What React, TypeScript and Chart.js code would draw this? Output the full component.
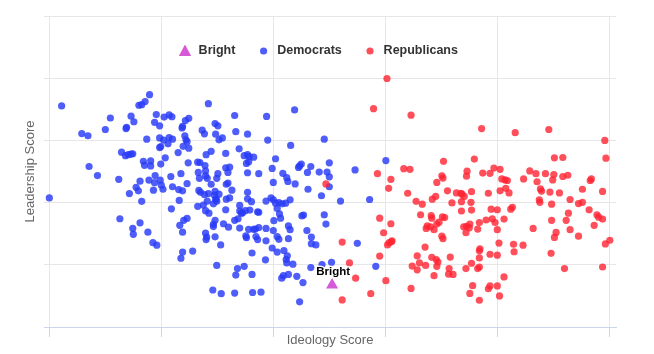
import React, { useEffect, useRef } from "react";
import { Chart, registerables } from "chart.js";

Chart.register(...registerables);

// Axis titles and tick values (labels hidden in the reference)
const xTitle = "Ideology Score";
const yTitle = "Leadership Score";
const xTicks = [0, 20, 40, 60, 80, 100];
const yTicks = [0, 20, 40, 60, 80, 100];
const seriesNames = ["Bright", "Democrats", "Republicans"];

// Bright (highlighted member)
const brightIdeology = [50.5];
const brightLeadership = [13.5];

// Democrats
const demIdeology = [
  17.9, 17.1, 16.5, 16.0, 2.2, 28.4, 43.8, 10.9, 14.6, 15.1, 13.8, 13.7, 19.1, 20.5, 21.4, 21.9,
  24.9, 24.3, 23.8, 23.7, 33.1, 38.8, 10.0, 5.8, 6.9, 18.8, 19.7, 29.6, 30.1, 27.3, 27.7, 24.2,
  24.4, 24.6, 29.7, 30.9, 30.3, 33.3, 35.4, 17.4, 19.7, 20.4, 21.4, 21.2, 22.0, 19.9, 19.7, 23.9,
  24.9, 23.0, 39.0, 43.1, 49.1, 12.9, 13.6, 14.1, 14.6, 14.9, 28.9, 28.0, 33.9, 34.8, 35.4, 35.7,
  36.5, 31.5, 20.7, 16.8, 18.1, 18.1, 17.0, 19.9, 24.8, 26.5, 26.9, 27.8, 35.6, 35.2, 7.1, 8.6,
  12.4, 16.2, 17.8, 18.9, 19.8, 18.8, 23.5, 21.7, 27.9, 26.6, 26.8, 27.9, 28.2, 30.1, 29.9, 28.9,
  31.5, 32.2, 31.9, 35.4, 37.4, 39.8, 40.4, 44.7, 45.0, 44.5, 46.7, 46.1, 48.2, 49.6, 50.0, 50.0,
  41.7, 42.4, 42.6, 43.9, 15.5, 15.9, 14.3, 16.5, 20.0, 20.3, 22.0, 24.6, 23.1, 23.8, 23.2, 26.7,
  27.0, 27.7, 28.4, 29.6, 29.5, 30.3, 29.8, 29.9, 31.9, 31.6, 32.6, 35.4, 35.4, 31.6, 32.2, 28.2,
  27.5, 26.5, 27.9, 28.5, 29.3, 29.7, 31.5, 34.0, 34.0, 36.1, 37.4, 38.7, 39.6, 40.0, 40.4, 41.0,
  41.6, 42.2, 43.0, 40.7, 41.1, 41.3, 40.1, 21.8, 12.6, 16.2, 14.9, 15.0, 17.6, 18.5, 19.2, 24.6,
  24.0, 23.3, 23.8, 23.8, 23.5, 25.6, 27.9, 28.1, 28.0, 29.6, 29.3, 29.3, 29.6, 30.6, 31.1, 32.0,
  33.7, 33.1, 34.3, 35.0, 34.5, 34.0, 35.8, 37.2, 35.1, 35.2, 35.6, 36.5, 37.4, 36.8, 36.9, 37.2,
  38.7, 38.7, 40.0, 40.7, 41.0, 42.7, 43.0, 42.7, 41.9, 39.8, 40.7, 42.5, 42.4, 42.3, 43.5, 45.4,
  45.1, 46.0, 46.8, 46.8, 47.6, 46.2, 49.1, 49.4, 48.6, 52.0, 54.6, 57.2, 60.1, 55.0, 46.7, 48.7,
  50.4, 58.3, 29.9, 33.6, 34.8, 36.2, 33.3, 38.6, 41.8, 42.7, 41.5, 44.2, 45.3, 29.2, 30.7, 33.1,
  36.3, 37.8, 44.7, 0.0, 50.0, 36.2, 40.0, 18.6,
];
const demLeadership = [
  74.7, 72.5, 71.5, 71.3, 71.1, 71.8, 69.8, 67.2, 67.8, 66.0, 64.2, 63.8, 68.3, 67.5, 68.2, 67.6,
  67.1, 66.4, 64.5, 64.0, 68.0, 67.7, 63.5, 62.2, 61.5, 65.8, 64.7, 65.4, 64.7, 63.3, 62.1, 61.5,
  60.2, 59.6, 62.0, 60.8, 60.2, 62.8, 62.0, 60.4, 60.8, 60.1, 60.9, 58.9, 60.4, 58.0, 57.7, 58.1,
  57.5, 56.1, 60.1, 58.4, 60.4, 56.2, 55.1, 55.4, 55.6, 55.7, 56.5, 55.4, 57.3, 55.1, 55.4, 54.8,
  54.6, 55.8, 54.4, 53.3, 53.4, 51.8, 52.0, 52.4, 52.8, 53.0, 52.9, 51.9, 53.1, 52.6, 51.6, 48.7,
  47.5, 46.9, 47.2, 48.7, 47.2, 46.4, 49.3, 48.4, 50.2, 49.7, 47.8, 48.6, 47.8, 49.3, 47.8, 45.9,
  51.2, 51.4, 49.7, 49.6, 49.3, 51.0, 54.1, 51.8, 52.4, 51.3, 51.6, 49.7, 49.8, 49.8, 52.8, 48.3,
  49.4, 48.0, 46.8, 46.0, 44.9, 43.8, 42.9, 40.4, 45.6, 44.3, 45.1, 46.1, 44.2, 43.8, 40.7, 43.9,
  43.3, 42.6, 42.9, 43.6, 42.4, 42.7, 41.2, 40.4, 46.3, 45.9, 44.0, 43.3, 41.2, 41.1, 41.5, 40.5,
  39.2, 38.8, 37.4, 36.6, 39.6, 40.9, 37.7, 39.1, 37.3, 40.3, 36.9, 40.5, 41.5, 40.9, 39.8, 40.0,
  39.6, 39.8, 40.9, 38.1, 36.4, 35.0, 34.2, 38.0, 34.8, 33.5, 31.7, 29.8, 30.5, 27.1, 26.3, 34.9,
  34.3, 32.7, 30.5, 24.1, 22.1, 24.4, 30.2, 28.9, 28.1, 34.3, 33.0, 32.3, 29.0, 26.4, 33.2, 32.1,
  34.8, 34.3, 36.6, 37.4, 36.7, 31.8, 37.6, 37.0, 29.3, 28.7, 31.4, 31.4, 32.0, 31.5, 29.1, 28.1,
  31.7, 27.7, 31.0, 29.1, 28.2, 32.5, 31.3, 28.4, 24.6, 25.4, 24.1, 22.9, 20.6, 21.7, 20.2, 36.0,
  35.7, 31.0, 28.9, 26.8, 26.4, 44.3, 36.1, 33.1, 42.2, 40.5, 50.5, 41.0, 53.5, 26.9, 19.1, 20.1,
  20.8, 19.5, 19.8, 18.8, 19.5, 16.9, 16.7, 21.6, 16.5, 16.9, 15.7, 16.3, 14.3, 11.9, 10.7, 10.9,
  11.1, 11.2, 8.1, 41.5, 45.1, 23.8, 46.5, 44.0,
];

// Republicans
const repIdeology = [
  60.3, 57.9, 64.6, 77.2, 83.2, 89.2, 99.2, 99.4, 70.4, 75.9, 90.2, 91.7, 58.6, 61.0, 60.6, 63.3,
  64.4, 74.6, 74.5, 77.4, 78.7, 79.4, 80.5, 80.8, 81.4, 81.8, 85.8, 86.9, 88.6, 90.1, 89.9, 91.7,
  92.6, 84.7, 87.1, 96.8, 96.6, 70.1, 70.3, 69.2, 64.0, 71.1, 72.7, 73.5, 73.7, 74.1, 75.4, 78.4,
  80.5, 81.5, 82.1, 87.7, 87.9, 89.4, 91.1, 95.2, 98.8, 69.0, 68.4, 65.5, 66.6, 71.9, 73.6, 75.3,
  87.5, 87.6, 89.7, 93.0, 94.5, 95.2, 73.6, 75.4, 78.9, 80.0, 82.7, 82.4, 96.4, 97.8, 98.1, 66.3,
  68.2, 68.3, 70.2, 70.6, 92.7, 59.0, 61.0, 69.6, 69.2, 74.5, 74.0, 75.0, 75.1, 79.1, 78.0, 76.8,
  81.2, 79.6, 67.5, 68.1, 68.7, 67.3, 76.5, 74.4, 80.0, 89.7, 92.3, 97.3, 98.8, 86.4, 90.5, 90.2,
  93.0, 94.5, 59.7, 60.7, 61.1, 61.2, 60.4, 70.1, 70.3, 67.1, 52.3, 80.3, 82.9, 84.6, 83.0, 76.9,
  76.8, 99.3, 100.1, 65.7, 68.3, 69.1, 69.4, 71.6, 78.7, 80.0, 76.8, 89.6, 59.0, 53.6, 64.8, 66.1,
  67.2, 65.7, 69.2, 71.4, 71.3, 72.1, 68.7, 74.4, 75.4, 76.5, 76.8, 81.2, 92.0, 98.8, 54.7, 60.1,
  64.6, 75.6, 75.1, 78.7, 78.4, 80.0, 76.8, 80.4, 57.4, 52.3, 49.4,
];
const repLeadership = [
  79.9, 70.2, 68.1, 63.8, 62.5, 63.5, 60.0, 54.3, 53.3, 54.0, 54.4, 54.5, 49.3, 47.5, 44.6, 50.9,
  50.7, 50.1, 48.5, 49.5, 49.4, 51.1, 50.7, 47.6, 47.3, 47.1, 50.2, 49.3, 49.3, 49.0, 47.3, 48.4,
  48.8, 47.6, 46.7, 47.6, 47.1, 48.6, 47.9, 46.5, 43.0, 43.8, 43.1, 43.0, 42.7, 42.0, 43.5, 43.0,
  43.8, 44.6, 43.1, 44.4, 43.7, 43.4, 43.1, 44.3, 43.6, 42.0, 41.1, 40.4, 39.5, 39.9, 40.3, 40.1,
  40.9, 40.1, 39.5, 41.0, 39.7, 40.1, 37.3, 37.6, 37.9, 37.7, 38.5, 37.9, 37.7, 36.1, 35.3, 36.1,
  35.8, 35.0, 35.4, 35.2, 36.6, 35.0, 33.2, 33.7, 33.1, 32.4, 32.2, 31.9, 33.1, 34.8, 34.4, 33.6,
  34.7, 33.6, 32.5, 32.2, 31.3, 31.7, 31.5, 30.3, 31.3, 34.3, 34.3, 32.7, 34.7, 31.7, 30.4, 28.8,
  31.3, 29.2, 30.3, 27.1, 27.4, 27.7, 26.4, 29.2, 28.4, 25.7, 27.3, 27.0, 26.6, 26.3, 24.2, 25.1,
  24.5, 26.7, 27.9, 22.9, 22.4, 21.7, 20.9, 22.5, 23.4, 23.1, 22.2, 23.7, 22.8, 20.6, 19.6, 20.6,
  19.8, 18.4, 19.5, 18.8, 17.0, 16.9, 16.5, 18.8, 20.5, 18.8, 19.3, 16.1, 18.8, 19.3, 15.7, 14.9,
  12.4, 13.3, 10.8, 13.2, 12.3, 13.2, 8.6, 10.0, 10.7, 8.7, 46.0,
];

const seriesColors = ["#d65ad6", "rgba(40, 58, 246, 0.82)", "rgba(255, 35, 50, 0.8)"];

const zip = (xs: number[], ys: number[]) => xs.map((x, i) => ({ x, y: ys[i] }));

const legendPlugin = {
  id: "floatingLegend",
  afterDraw(chart: any) {
    const ctx = chart.ctx;
    ctx.save();
    ctx.font = 'bold 12.5px "Liberation Sans", Arial, sans-serif';
    ctx.textBaseline = "middle";
    ctx.textAlign = "left";
    let x = 185;
    const y = 51;
    chart.data.datasets.forEach((ds: any) => {
      ctx.fillStyle = ds.pointBackgroundColor;
      ctx.beginPath();
      if (ds.pointStyle === "triangle") {
        ctx.moveTo(x, y - 6.5);
        ctx.lineTo(x + 6.2, y + 5);
        ctx.lineTo(x - 6.2, y + 5);
        ctx.closePath();
      } else {
        ctx.arc(x, y, 3.6, 0, Math.PI * 2);
      }
      ctx.fill();
      ctx.fillStyle = "#333333";
      ctx.fillText(ds.label, x + 13.6, y);
      x += 13.6 + ctx.measureText(ds.label).width + 28.2;
    });
    ctx.restore();
  },
};

const dataLabelPlugin = {
  id: "brightLabel",
  afterDatasetsDraw(chart: any) {
    const meta = chart.getDatasetMeta(0);
    const ctx = chart.ctx;
    ctx.save();
    ctx.font = 'bold 11.5px "Liberation Sans", Arial, sans-serif';
    ctx.textAlign = "center";
    ctx.textBaseline = "middle";
    ctx.lineJoin = "round";
    meta.data.forEach((el: any) => {
      const label = chart.data.datasets[0].label;
      ctx.strokeStyle = "#ffffff";
      ctx.lineWidth = 2.5;
      ctx.strokeText(label, el.x + 1, el.y - 13);
      ctx.fillStyle = "#000000";
      ctx.fillText(label, el.x + 1, el.y - 13);
    });
    ctx.restore();
  },
};

export default function App() {
  const canvasRef = useRef<HTMLCanvasElement | null>(null);

  useEffect(() => {
    if (!canvasRef.current) return;
    const chart = new Chart(canvasRef.current, {
      type: "scatter",
      data: {
        datasets: [
          {
            label: seriesNames[0],
            data: zip(brightIdeology, brightLeadership),
            pointStyle: "triangle",
            pointRadius: 7,
            pointHoverRadius: 7,
            pointBackgroundColor: seriesColors[0],
            backgroundColor: seriesColors[0],
            pointBorderWidth: 0,
            borderWidth: 0,
            order: 0,
          },
          {
            label: seriesNames[1],
            data: zip(demIdeology, demLeadership),
            pointStyle: "circle",
            pointRadius: 3.6,
            pointHoverRadius: 3.6,
            pointBackgroundColor: seriesColors[1],
            backgroundColor: seriesColors[1],
            pointBorderWidth: 0,
            borderWidth: 0,
            order: 2,
          },
          {
            label: seriesNames[2],
            data: zip(repIdeology, repLeadership),
            pointStyle: "circle",
            pointRadius: 3.6,
            pointHoverRadius: 3.6,
            pointBackgroundColor: seriesColors[2],
            backgroundColor: seriesColors[2],
            pointBorderWidth: 0,
            borderWidth: 0,
            order: 1,
          },
        ],
      } as any,
      options: {
        responsive: false,
        animation: false,
        devicePixelRatio: 1,
        events: [],
        layout: { padding: { top: 16, right: 38, left: 0, bottom: 0 } },
        plugins: {
          legend: { display: false },
          tooltip: { enabled: false },
        },
        scales: {
          x: {
            type: "linear",
            position: "bottom",
            min: -0.95,
            max: 101.2,
            afterBuildTicks: (s: any) => {
              s.ticks = xTicks.map((v) => ({ value: v }));
            },
            afterFit: (s: any) => {
              s.height = 27;
            },
            ticks: { display: false },
            grid: {
              color: "#e6e6e6",
              tickColor: "#ccd6eb",
              tickLength: 10,
              drawTicks: true,
              lineWidth: 1,
            },
            border: { display: true, color: "#ccd6eb", width: 1 },
            title: {
              display: true,
              text: xTitle,
              color: "#666666",
              font: { family: '"Liberation Sans", Arial, sans-serif', size: 13 },
              padding: { top: 0, bottom: 5.7 },
            },
          },
          y: {
            type: "linear",
            position: "left",
            min: 0,
            max: 100,
            afterBuildTicks: (s: any) => {
              s.ticks = yTicks.map((v) => ({ value: v }));
            },
            afterFit: (s: any) => {
              s.width = 44;
            },
            ticks: { display: false },
            grid: {
              color: (c: any) => (c.tick && c.tick.value === 0 ? "rgba(0,0,0,0)" : "#e6e6e6"),
              drawTicks: false,
              lineWidth: 1,
            },
            border: { display: false },
            title: {
              display: true,
              text: yTitle,
              color: "#666666",
              font: { family: '"Liberation Sans", Arial, sans-serif', size: 13 },
              padding: { top: 22.2, bottom: 0 },
            },
          },
        },
      } as any,
      plugins: [legendPlugin, dataLabelPlugin],
    });
    return () => chart.destroy();
  }, []);

  return (
    <div style={{ position: "absolute", left: 0, top: 0, width: 654, height: 354, background: "#ffffff" }}>
      <canvas ref={canvasRef} width={654} height={354} style={{ display: "block" }} />
    </div>
  );
}
